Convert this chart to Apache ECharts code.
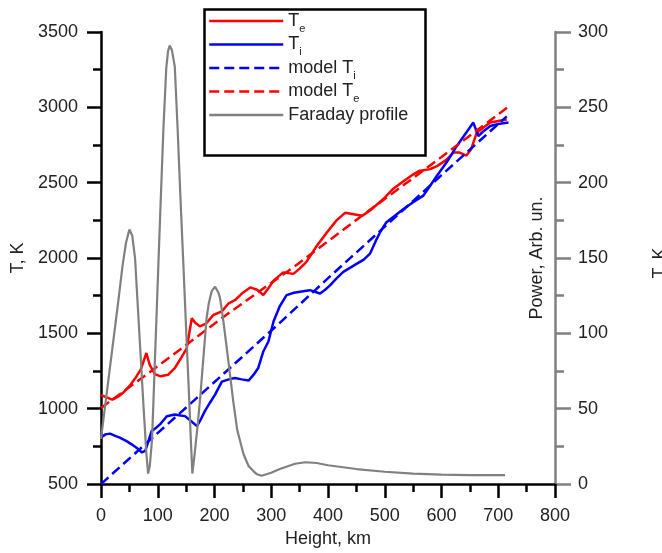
<!DOCTYPE html>
<html><head><meta charset="utf-8">
<script src="https://cdn.jsdelivr.net/npm/echarts@6/dist/echarts.min.js"></script>
<style>html,body{margin:0;padding:0;background:#fff}#c{width:662px;height:553px}</style>
</head><body><div id="c"></div>
<script>
// Height (km) and values
const teH = [0,10,20,30,40,50,60,70,80,86,95,105,118,130,140,151,160,166,174,185,198,213,225,236,250,263,275,286,295,304,321,339,350,362,380,398,415,430,445,460,474,497,515,533,548,562,580,592,608,621,632,644,652,662,675,686,700,715];
const teT = [1090,1075,1060,1080,1110,1150,1200,1260,1370,1290,1230,1215,1225,1270,1330,1400,1600,1570,1547,1565,1622,1646,1700,1720,1770,1805,1790,1755,1800,1850,1905,1895,1930,1975,2080,2170,2250,2300,2290,2280,2315,2390,2460,2510,2550,2580,2590,2610,2650,2700,2700,2680,2720,2830,2870,2900,2910,2920];

const tiH = [0,8,16,25,33,45,54,63,72,78,84,89,96,104,116,130,140,148,158,169,176,183,192,201,213,225,236,248,260,269,277,286,295,304,315,327,340,351,368,386,395,404,415,427,451,463,474,485,492,503,533,550,568,580,592,610,627,645,656,665,675,686,700,718];
const tiT = [810,830,835,820,808,785,764,740,710,720,790,850,870,896,950,962,955,951,920,885,930,984,1040,1094,1180,1195,1204,1195,1187,1226,1270,1380,1446,1579,1680,1754,1770,1777,1787,1765,1790,1820,1865,1908,1963,1990,2029,2120,2173,2238,2326,2370,2414,2480,2546,2640,2744,2840,2899,2810,2845,2876,2890,2899];

const modelTiH = [0,78,166,236,315,404,486,600,715];
const modelTiT = [500,765,1062,1300,1570,1880,2160,2550,2940];

const modelTeH = [0,72,139,227,345,451,600,718];
const modelTeT = [1005,1204,1392,1640,1955,2256,2670,3005];

const farH = [0,10,20,30,38,44,50,55,60,65,70,75,80,83,86,90,95,100,105,110,115,118,121,125,130,135,140,145,150,155,158,161,165,170,175,180,186,190,195,201,207,210,215,220,225,233,240,251,260,268,275,283,300,315,342,360,380,400,450,500,550,600,650,712];
const farP = [30,60,90,120,145,160,169,165,150,117,84,51,20,7,12,30,82,134,186,236,276,287,291,288,277,236,190,147,103,60,32,7,20,38,58,82,110,120,128,131,127,123,110,95,80,55,36,20,12,8.8,6.5,5.5,7.5,10,13.5,14.5,14,12.5,10,8.2,7,6.3,6,6];

const xTicks = {min:0, max:800, interval:100};
const tTicks = {min:500, max:3500, interval:500};
const pTicks = {min:0, max:300, interval:50};

const zip = (a,b) => a.map((v,i)=>[v,b[i]]);
const FONT = 'Liberation Sans';
const labelNames = {
  'Te': '{a|T}{b|e}',
  'Ti': '{a|T}{b|i}',
  'model Ti': '{a|model T}{b|i}',
  'model Te': '{a|model T}{b|e}',
  'Faraday profile': '{a|Faraday profile}'
};

const chart = echarts.init(document.getElementById('c'), null, {renderer:'canvas'});
const axisBase = (color) => ({
  axisLine:{show:true, onZero:false, lineStyle:{color:color, width:2.5}},
  axisTick:{show:true, inside:false, length:14, lineStyle:{color:color, width:2.5}},
  minorTick:{show:true, splitNumber:2, length:8, lineStyle:{color:color, width:2.5}},
  splitLine:{show:false},
  axisLabel:{color:'#222', fontSize:18, fontFamily:FONT, margin:23, formatter:(v)=>String(v)},
  nameTextStyle:{color:'#222', fontSize:18, fontFamily:FONT}
});

chart.setOption({
  animation:false,
  backgroundColor:'#fff',
  grid:{left:101, right:107, top:32, bottom:66, containLabel:false},
  xAxis:Object.assign(axisBase('#000'), {
    type:'value', min:xTicks.min, max:xTicks.max, interval:xTicks.interval,
    name:'Height, km', nameLocation:'middle', nameGap:42
  }),
  yAxis:[
    Object.assign(axisBase('#000'), {
      type:'value', position:'left', min:tTicks.min, max:tTicks.max, interval:tTicks.interval,
      name:'T, K', nameLocation:'middle', nameGap:73
    }),
    Object.assign(axisBase('#808080'), {
      type:'value', position:'right', min:pTicks.min, max:pTicks.max, interval:pTicks.interval,
      axisTick:{show:true, inside:false, length:16, lineStyle:{color:'#808080', width:2.5}},
      minorTick:{show:true, splitNumber:2, length:9, lineStyle:{color:'#808080', width:2.5}}
    })
  ],
  legend:{
    orient:'vertical', left:208, top:12, padding:0,
    itemWidth:74, itemHeight:14, itemGap:1.5,
    data:['Te','Ti','model Ti','model Te','Faraday profile'],
    formatter:(n)=>labelNames[n],
    itemStyle:{opacity:0},
    lineStyle:{width:2.5},
    textStyle:{
      fontFamily:FONT, color:'#222',
      rich:{
        a:{fontSize:18, fontFamily:FONT, color:'#222', lineHeight:26, verticalAlign:'middle'},
        b:{fontSize:11, fontFamily:FONT, color:'#222', lineHeight:12, verticalAlign:'bottom'}
      }
    }
  },
  graphic:[
    {type:'rect', left:202, top:7, shape:{width:221, height:146}, style:{fill:'none', stroke:'#000', lineWidth:2.5}, z:-1},
    {type:'text', x:537, y:258, rotation:Math.PI/2, style:{text:'Power, Arb. un.', font:'18px "Liberation Sans"', fill:'#222', align:'center', verticalAlign:'middle'}},
    {type:'text', x:660, y:263, rotation:Math.PI/2, style:{text:'T, K', font:'18px "Liberation Sans"', fill:'#222', align:'center', verticalAlign:'middle'}}
  ],
  series:[
    {name:'Te', type:'line', data:zip(teH,teT), symbol:'none', lineStyle:{color:'#ff0000', width:2.5}, itemStyle:{color:'#ff0000'}},
    {name:'Ti', type:'line', data:zip(tiH,tiT), symbol:'none', lineStyle:{color:'#0000ff', width:2.5}, itemStyle:{color:'#0000ff'}},
    {name:'model Ti', type:'line', data:zip(modelTiH,modelTiT), symbol:'none', lineStyle:{color:'#0000ff', width:2.5, type:[10,5]}, itemStyle:{color:'#0000ff'}},
    {name:'model Te', type:'line', data:zip(modelTeH,modelTeT), symbol:'none', lineStyle:{color:'#ff0000', width:2.5, type:[10,5]}, itemStyle:{color:'#ff0000'}},
    {name:'Faraday profile', type:'line', yAxisIndex:1, data:zip(farH,farP), symbol:'none', lineStyle:{color:'#808080', width:2.2}, itemStyle:{color:'#808080'}}
  ]
});
</script></body></html>
